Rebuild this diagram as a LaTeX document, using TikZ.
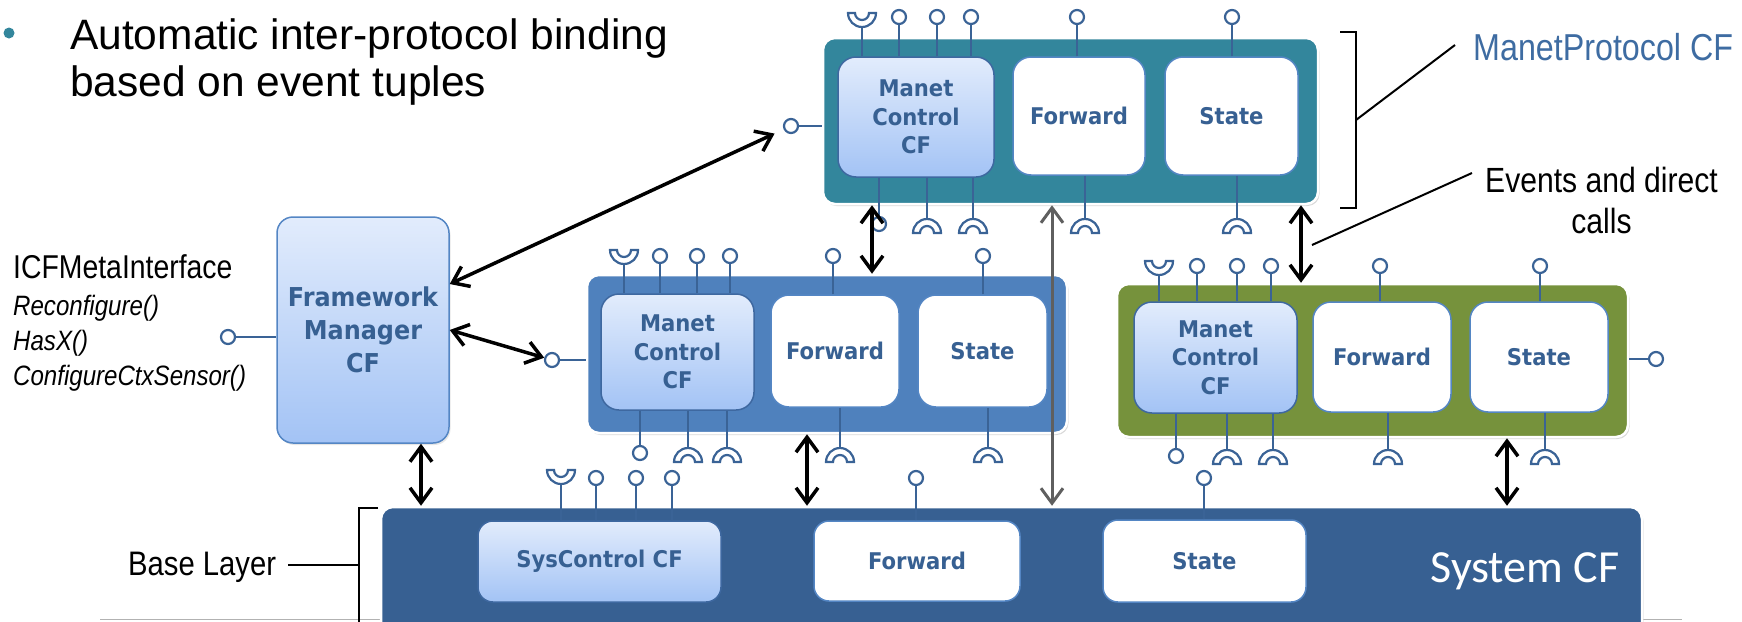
\documentclass[tikz,border=0pt]{standalone}
\usepackage{fontspec}
\setmainfont{Liberation Sans}
\newfontfamily\narrowfont[FakeStretch=0.86]{Liberation Sans}
\newfontfamily\boxfont[FakeStretch=0.92]{DejaVu Sans}
\newfontfamily\sysfont{Carlito}
\usetikzlibrary{arrows.meta,shadows}

\definecolor{cfTeal}{RGB}{51,134,156}
\definecolor{cfBlue}{RGB}{79,129,189}
\definecolor{cfGreen}{RGB}{118,146,60}
\definecolor{cfNavy}{RGB}{55,96,146}
\definecolor{cfInk}{RGB}{55,96,146}
\definecolor{cfPort}{RGB}{58,99,150}
\definecolor{cfEdge}{RGB}{62,104,160}
\definecolor{cfPale}{RGB}{84,134,196}
\definecolor{cfLightTop}{RGB}{226,236,252}
\definecolor{cfLightBot}{RGB}{163,195,245}
\definecolor{cfGray}{RGB}{95,95,95}
\definecolor{cfTitle}{RGB}{62,108,162}

% lollipop port: stem from a node edge to a small open circle
\newcommand\ballport[3]{%
  \draw[port] (#1,0 |- #3) -- (#1,#2);
  \draw[port,fill=white] (#1,#2) circle[radius=7pt];}
% socket opening upwards (rim at y = #2)
\newcommand\cupport[3]{%
  \draw[port] (#1,0 |- #3) -- (#1,#2+14);
  \draw[port,fill=white] (#1-14,#2) arc[start angle=180,end angle=360,radius=14pt]
    -- ++(-7pt,0) arc[start angle=0,end angle=-180,radius=7pt] -- cycle;}
% socket opening downwards (base at y = #2)
\newcommand\capport[3]{%
  \draw[port] (#1,0 |- #3) -- (#1,#2-14);
  \draw[port,fill=white] (#1-14,#2) arc[start angle=180,end angle=0,radius=14pt]
    -- ++(-7pt,0) arc[start angle=0,end angle=180,radius=7pt] -- cycle;}

\begin{document}
\begin{tikzpicture}[x=1pt,y=-1pt,
  outerbox/.style={draw=white, line width=2.5pt, rounded corners=12pt,
    drop shadow={opacity=0.3,shadow xshift=1.5pt,shadow yshift=-2pt}},
  ctrlbox/.style={draw=cfEdge, line width=1.5pt, rounded corners=18pt,
    top color=cfLightTop, bottom color=cfLightBot, text=cfInk, align=center, inner sep=0pt,
    font=\boxfont\bfseries\fontsize{23pt}{28.5pt}\selectfont},
  plainbox/.style={draw=cfPale, line width=1.5pt, rounded corners=18pt, fill=white,
    text=cfInk, align=center, inner sep=0pt,
    font=\boxfont\bfseries\fontsize{23pt}{28.5pt}\selectfont},
  port/.style={draw=cfPort, line width=2.2pt},
  ballnode/.style={circle, draw=cfPort, line width=2.2pt, fill=white, minimum size=14pt, inner sep=0pt},
  dbl/.style={{Straight Barb[length=15pt,width=22pt]}-{Straight Barb[length=15pt,width=22pt]}, line width=3.5pt, draw=black},
  gdbl/.style={{Straight Barb[length=15pt,width=22pt]}-{Straight Barb[length=15pt,width=22pt]}, line width=3pt, draw=cfGray},
  lead/.style={draw=black, line width=2pt},
  note/.style={font=\narrowfont\fontsize{35pt}{41pt}\selectfont, inner sep=0pt},
]
\useasboundingbox (0,0) rectangle (1742,621);
\clip (0,0) rectangle (1742,621);

% footer rule
\draw[gray!60, line width=1.5pt] (100,619.5) -- (1682,619.5);

% bullet text
\fill[cfTeal] (9,33) circle[radius=5.5pt];
\node[anchor=base west, inner sep=0pt, font=\fontsize{42.5pt}{47pt}\selectfont] (bl1) at (70,49) {Automatic inter-protocol binding};
\node[anchor=base west, inner sep=0pt, font=\fontsize{42.5pt}{47pt}\selectfont] (bl2) at (70,96) {based on event tuples};

% ---------- outer component frameworks ----------
\node[outerbox, fill=cfTeal, minimum width=495pt, minimum height=166pt] (T) at (1070.5,121) {};
\node[outerbox, fill=cfBlue, minimum width=480pt, minimum height=158pt] (M) at (827,354) {};
\node[outerbox, fill=cfGreen, minimum width=511pt, minimum height=153pt] (G) at (1372.5,360.5) {};
\node[outerbox, fill=cfNavy, minimum width=1261pt, minimum height=140pt] (B) at (1011.5,577) {};

% framework manager
\node[ctrlbox, rounded corners=16pt, draw=cfPale, minimum width=172pt, minimum height=226pt,
  font=\boxfont\bfseries\fontsize{26pt}{33pt}\selectfont,
  drop shadow={opacity=0.2,shadow xshift=1.5pt,shadow yshift=-2pt}] (fm) at (363,330) {Framework\\Manager\\CF};

% ---------- inner components ----------
\node[ctrlbox, minimum width=156pt, minimum height=120pt] (tmc) at (916,117) {Manet\\Control\\CF};
\node[plainbox, minimum width=132pt, minimum height=118pt] (tfw) at (1079,116) {Forward};
\node[plainbox, minimum width=133pt, minimum height=118pt] (tst) at (1231.5,116) {State};

\node[ctrlbox, minimum width=153pt, minimum height=116pt] (mmc) at (677.5,352) {Manet\\Control\\CF};
\node[plainbox, minimum width=128pt, minimum height=112pt] (mfw) at (835,351) {Forward};
\node[plainbox, minimum width=129pt, minimum height=112pt] (mst) at (982.5,351) {State};

\node[ctrlbox, minimum width=163pt, minimum height=111pt] (gmc) at (1215.5,357.5) {Manet\\Control\\CF};
\node[plainbox, minimum width=138pt, minimum height=110pt] (gfw) at (1382,357) {Forward};
\node[plainbox, minimum width=138pt, minimum height=110pt] (gst) at (1539,357) {State};

\node[ctrlbox, rounded corners=15pt, minimum width=243pt, minimum height=81pt] (bsys) at (599.5,561.5) {SysControl CF};
\node[plainbox, rounded corners=15pt, minimum width=206pt, minimum height=80pt] (bfw) at (917,561) {Forward};
\node[plainbox, rounded corners=15pt, minimum width=203pt, minimum height=82pt] (bst) at (1204.5,561) {State};

\node[anchor=base, inner sep=0pt, text=white, font=\sysfont\fontsize{46pt}{50pt}\selectfont] (syscf) at (1525,582) {System CF};

% ---------- ports: ManetProtocol CF ----------
\cupport{862}{13}{tmc.north}
\ballport{899}{17}{tmc.north}
\ballport{937}{17}{tmc.north}
\ballport{971}{17}{tmc.north}
\ballport{1077}{17}{tfw.north}
\ballport{1232}{17}{tst.north}
\ballport{879}{224}{tmc.south}
\capport{927}{233}{tmc.south}
\capport{973}{233}{tmc.south}
\capport{1085}{233}{tfw.south}
\capport{1237}{233}{tst.south}
\node[ballnode] (tp) at (791,126) {};
\draw[port] (tp) -- (tp -| T.west);

% ---------- ports: middle framework ----------
\cupport{624}{250}{mmc.north}
\ballport{660}{256}{mmc.north}
\ballport{697}{256}{mmc.north}
\ballport{730}{256}{mmc.north}
\ballport{833}{256}{mfw.north}
\ballport{983}{256}{mst.north}
\ballport{640}{453}{mmc.south}
\capport{688}{462}{mmc.south}
\capport{727}{462}{mmc.south}
\capport{840}{462}{mfw.south}
\capport{988}{462}{mst.south}
\node[ballnode] (mp) at (552,360) {};
\draw[port] (mp) -- (mp -| M.west);

% ---------- ports: right framework ----------
\cupport{1159}{261}{gmc.north}
\ballport{1197}{266}{gmc.north}
\ballport{1237}{266}{gmc.north}
\ballport{1271}{266}{gmc.north}
\ballport{1380}{266}{gfw.north}
\ballport{1540}{266}{gst.north}
\ballport{1176}{456}{gmc.south}
\capport{1227}{464}{gmc.south}
\capport{1273}{464}{gmc.south}
\capport{1388}{464}{gfw.south}
\capport{1545}{464}{gst.south}
\node[ballnode] (gp) at (1656,359) {};
\draw[port] (gp) -- (gp -| G.east);

% ---------- ports: base layer ----------
\cupport{561}{470}{bsys.north}
\ballport{596}{478}{bsys.north}
\ballport{636}{478}{bsys.north}
\ballport{672}{478}{bsys.north}
\ballport{916}{478}{bfw.north}
\ballport{1204}{478}{bst.north}

% framework manager interface
\node[ballnode] (fp) at (228,337) {};
\draw[port] (fp) -- (fp -| fm.west);

% ---------- bindings ----------
\draw[dbl, shorten >=10pt] ([yshift=46pt]fm.east) -- (tp);
\draw[dbl] (fm.east) -- (mp);
\draw[dbl] (421,0 |- fm.south) -- (421,0 |- B.north);
\draw[dbl] (872,0 |- T.south) -- (872,0 |- M.north);
\draw[dbl] (807,0 |- M.south) -- (807,0 |- B.north);
\draw[gdbl] (1052,0 |- T.south) -- (1052,0 |- B.north);
\draw[dbl] (1301,0 |- T.south) -- (1301,0 |- G.north);
\draw[dbl] (1507,0 |- G.south) -- (1507,0 |- B.north);

% ---------- annotations ----------
\node[anchor=base west, note, text=cfTitle, font=\narrowfont\fontsize{37.5pt}{42pt}\selectfont] (mpcf) at (1473,60) {ManetProtocol CF};
\draw[lead] (1340,32) -- (1356,32) -- (1356,208) -- (1340,208);
\coordinate (bkmid) at (1356,120);
\draw[lead] (bkmid) -- (1455,45);

\node[anchor=base, note] (ev1) at (1601.5,192) {Events and direct};
\node[anchor=base, note] (ev2) at (1601.5,233) {calls};
\coordinate (evend) at (1312,245);
\draw[lead] (evend) -- (1472,173);

\node[anchor=base west, inner sep=0pt, font=\narrowfont\fontsize{33pt}{38pt}\selectfont] (icf) at (13,278) {ICFMetaInterface};
\node[anchor=base west, inner sep=0pt, font=\narrowfont\itshape\fontsize{28pt}{32pt}\selectfont] (m1) at (13,315) {Reconfigure()};
\node[anchor=base west, inner sep=0pt, font=\narrowfont\itshape\fontsize{28pt}{32pt}\selectfont] (m2) at (13,350) {HasX()};
\node[anchor=base west, inner sep=0pt, font=\narrowfont\itshape\fontsize{28pt}{32pt}\selectfont] (m3) at (13,385) {ConfigureCtxSensor()};

\node[anchor=base west, inner sep=0pt, font=\narrowfont\fontsize{34pt}{38pt}\selectfont] (base) at (128,575) {Base Layer};
\draw[lead] (base.east |- 0,565) ++(12pt,0) -- (358,565);
\draw[lead] (378,508) -- (359,508) -- (359,625);
\end{tikzpicture}
\end{document}
